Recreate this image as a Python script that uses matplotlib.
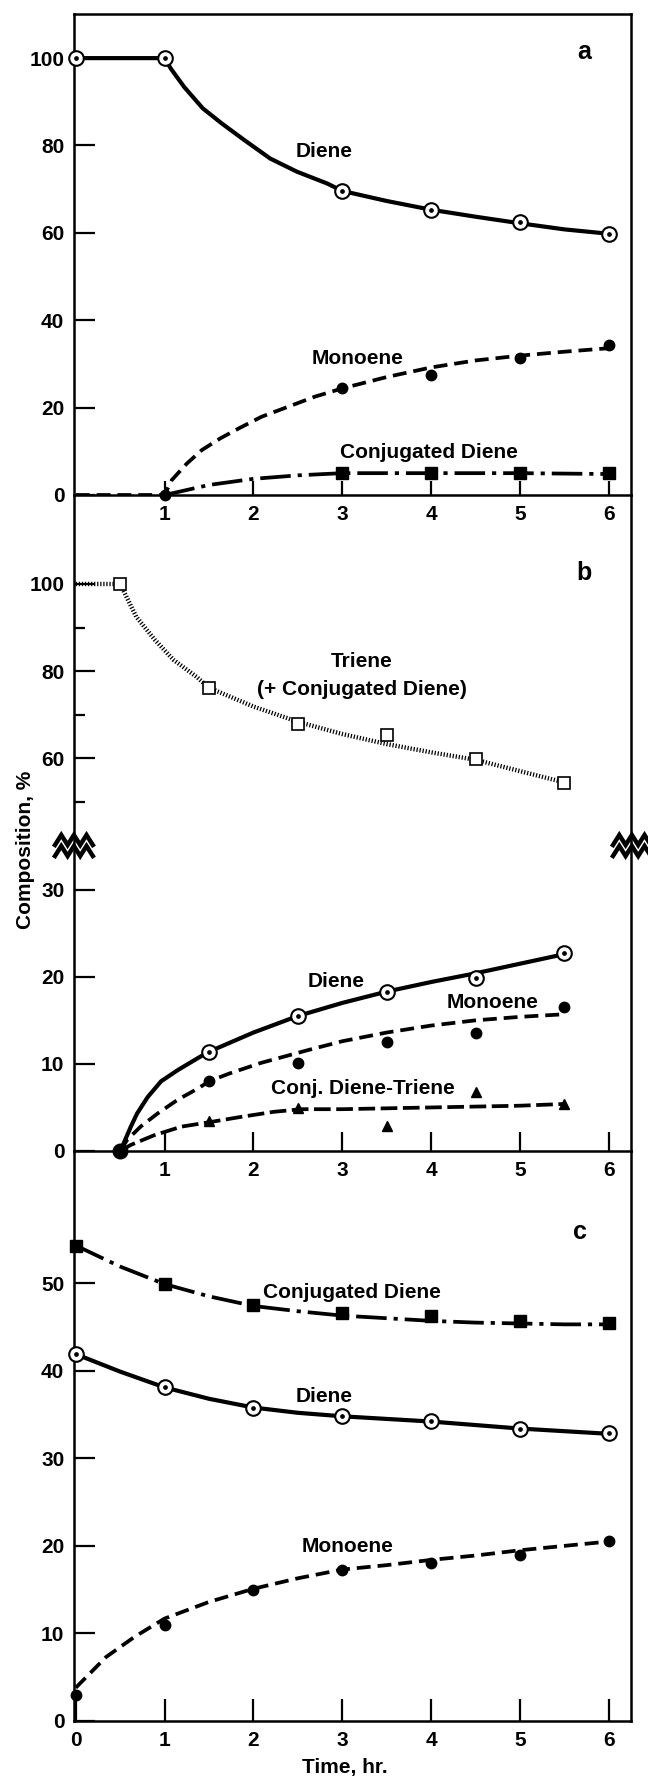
import numpy as np
import matplotlib
matplotlib.use('Agg')
import matplotlib.pyplot as plt

plt.rcParams['font.family'] = ['Liberation Sans', 'DejaVu Sans']
plt.rcParams['font.weight'] = 'bold'
plt.rcParams['lines.scale_dashes'] = False

W, H = 648, 1779

# ---- panel a, measured points
a_time = [0, 1, 3, 4, 5, 6]
a_diene = [100, 100, 69.6, 65.3, 62.5, 59.8]
a_mono_t = [1, 3, 4, 5, 6]
a_mono = [0, 24.4, 27.5, 31.3, 34.3]
a_conj_t = [3, 4, 5, 6]
a_conj = [5.1, 5.1, 5.0, 5.0]
# the drawn curves
a_diene_fit_t = [0, 1, 1.07, 1.22, 1.43, 1.64, 1.90, 2.19, 2.49, 2.83, 3, 3.5, 4, 4.5, 5, 5.5, 6]
a_diene_fit = [100, 100, 97.6, 93.4, 88.5, 85.1, 81.2, 77.0, 74.0, 71.3, 69.6, 67.3, 65.3, 63.7, 62.2, 60.8, 59.8]
a_mono_fit_t = [0, 1, 1.08, 1.25, 1.42, 1.63, 1.84, 2.09, 2.39, 2.69, 3, 3.5, 4, 4.5, 5, 5.5, 6]
a_mono_fit = [0, 0, 3.4, 7.2, 10.3, 13.0, 15.3, 17.9, 20.2, 22.5, 24.4, 27.0, 29.2, 30.8, 31.9, 32.8, 33.6]
a_conj_fit_t = [1, 1.5, 2, 2.5, 3, 4, 5, 6]
a_conj_fit = [0, 2.3, 3.7, 4.5, 5.0, 5.0, 5.0, 4.8]

# ---- panel b
b_time = [0.5, 1.5, 2.5, 3.5, 4.5, 5.5]
b_triene = [100, 76.2, 68.0, 65.3, 59.8, 54.4]
b_diene = [0, 11.4, 15.5, 18.2, 19.9, 22.7]
b_mono = [0, 8.0, 10.1, 12.5, 13.5, 16.5]
b_ct_t = [1.5, 2.5, 3.5, 4.5, 5.5]
b_ct = [3.4, 4.9, 2.9, 6.8, 5.4]
b_triene_fit_t = [0, 0.5, 0.68, 0.89, 1.10, 1.36, 1.5, 2, 2.5, 3, 3.5, 4, 4.5, 5, 5.5]
b_triene_fit = [100, 100, 92.5, 87.2, 82.6, 78.7, 76.2, 71.9, 68.4, 65.6, 63.3, 61.4, 59.7, 57.1, 54.5]
b_diene_fit_t = [0.5, 0.54, 0.62, 0.69, 0.81, 0.96, 1.15, 1.38, 1.5, 2, 2.5, 3, 3.5, 4, 4.5, 5, 5.5]
b_diene_fit = [0, 0.9, 2.8, 4.3, 6.2, 8.0, 9.3, 10.7, 11.4, 13.6, 15.5, 17.0, 18.3, 19.4, 20.4, 21.5, 22.6]
b_mono_fit_t = [0.5, 0.58, 0.73, 0.92, 1.15, 1.38, 1.5, 1.73, 2.08, 2.62, 3, 3.5, 4, 4.5, 5, 5.5]
b_mono_fit = [0, 1.3, 2.8, 4.3, 5.9, 7.2, 8.0, 8.9, 10.1, 11.6, 12.6, 13.6, 14.4, 15.0, 15.4, 15.7]
b_ct_fit_t = [0.5, 0.62, 0.88, 1.19, 1.5, 1.85, 2.23, 2.54, 3, 3.5, 4, 4.5, 5, 5.5]
b_ct_fit = [0, 0.7, 1.8, 2.8, 3.3, 3.9, 4.5, 4.8, 4.8, 4.9, 5.0, 5.1, 5.2, 5.4]

# ---- panel c
c_time = [0, 1, 2, 3, 4, 5, 6]
c_conj = [54.3, 49.9, 47.5, 46.6, 46.2, 45.7, 45.5]
c_diene = [41.9, 38.1, 35.8, 34.8, 34.3, 33.4, 32.9]
c_mono = [3.0, 11.0, 15.0, 17.2, 18.1, 19.0, 20.6]
c_fit_t = [0, 0.5, 1, 1.5, 2, 2.5, 3, 3.5, 4, 4.5, 5, 5.5, 6]
c_conj_fit = [54.3, 51.9, 49.9, 48.5, 47.4, 46.8, 46.3, 46.0, 45.7, 45.5, 45.4, 45.3, 45.3]
c_diene_fit = [41.9, 39.9, 38.1, 36.8, 35.8, 35.2, 34.8, 34.5, 34.2, 33.8, 33.4, 33.1, 32.8]
c_mono_fit_t = [0, 0.34, 0.66, 1, 1.5, 2, 2.5, 3, 3.5, 4, 4.5, 5, 5.5, 6]
c_mono_fit = [3.8, 7.3, 9.6, 11.7, 13.6, 15.1, 16.3, 17.3, 17.8, 18.4, 18.9, 19.5, 20.0, 20.5]

FS = 15      # curve labels
TFS = 15     # tick labels
SOLID = dict(color='k', lw=3.0, solid_capstyle='butt', solid_joinstyle='round', zorder=2)
DASH = dict(color='k', lw=2.7, dashes=(10, 5), zorder=2)
LDASH = dict(color='k', lw=2.7, dashes=(12, 4), zorder=2)
DASHDOT = dict(color='k', lw=2.7, dashes=(22, 5, 3, 5), zorder=2)
DOTS = dict(color='k', lw=3.2, dashes=(0.9, 1.3), zorder=2)


def circ_dot(ax, x, y):
    ax.plot(x, y, 'o', ms=10.5, mfc='white', mec='k', mew=1.5, zorder=4, clip_on=False)
    ax.plot(x, y, 'o', ms=2.4, color='k', zorder=5, clip_on=False)


def make_ax(top, bottom):
    ax = fig.add_axes([74 / W, 1 - bottom / H, (631 - 74) / W, (bottom - top) / H])
    ax.set_facecolor('none')
    ax.set_xlim(-0.02, 6.25)
    for s in ax.spines.values():
        s.set_linewidth(1.8)
    ax.tick_params(axis='y', direction='in', length=15, width=1.6, labelsize=TFS, pad=7, right=False)
    ax.tick_params(axis='y', which='minor', direction='in', length=8, width=1.6)
    ax.tick_params(axis='x', direction='in', width=1.6, labelsize=TFS, pad=7, top=False)
    return ax


fig = plt.figure(figsize=(W / 100, H / 100), dpi=100)

# ---------------- a
ax = make_ax(14, 495)
ax.set_ylim(0, 110.1)
ax.set_yticks([0, 20, 40, 60, 80, 100])
ax.set_xticks([1, 2, 3, 4, 5, 6])
ax.tick_params(axis='x', length=10)
ax.plot(a_diene_fit_t, a_diene_fit, **SOLID)
ax.plot(a_mono_fit_t, a_mono_fit, **DASH)
ax.plot(a_conj_fit_t, a_conj_fit, **DASHDOT)
circ_dot(ax, a_time, a_diene)
ax.plot(a_mono_t, a_mono, 'o', ms=7.5, color='k', zorder=4, clip_on=False)
ax.plot(a_conj_t, a_conj, 's', ms=8.5, color='k', zorder=4)
ax.text(2.80, 78.7, 'Diene', fontsize=FS, ha='center', va='center')
ax.text(3.17, 31.3, 'Monoene', fontsize=FS, ha='center', va='center')
ax.text(3.97, 9.8, 'Conjugated Diene', fontsize=FS, ha='center', va='center')
ax.text(5.72, 101.5, 'a', fontsize=18, ha='center', va='center')

# ---------------- b (broken y axis)
bu = make_ax(495, 847)
bu.set_ylim(39.7, 120.4)
bu.set_yticks([60, 80, 100])
bu.set_yticks([50, 70, 90], minor=True)
bu.spines['top'].set_visible(False)
bu.spines['bottom'].set_visible(False)
bu.tick_params(axis='x', bottom=False, labelbottom=False)
bu.plot(b_triene_fit_t, b_triene_fit, **DOTS)
bu.plot(b_time, b_triene, 's', ms=8.5, mfc='white', mec='k', mew=1.2, zorder=4)
bu.text(3.22, 82.2, 'Triene', fontsize=FS, ha='center', va='center')
bu.text(3.22, 75.7, '(+ Conjugated Diene)', fontsize=FS, ha='center', va='center')
bu.text(5.72, 102.5, 'b', fontsize=18, ha='center', va='center')

bl = make_ax(847, 1151)
bl.set_ylim(0, 34.9)
bl.set_yticks([0, 10, 20, 30])
bl.set_xticks([1, 2, 3, 4, 5, 6])
bl.tick_params(axis='x', length=14)
bl.spines['top'].set_visible(False)
bl.plot(b_diene_fit_t, b_diene_fit, **SOLID)
bl.plot(b_mono_fit_t, b_mono_fit, **DASH)
bl.plot(b_ct_fit_t, b_ct_fit, **LDASH)
bl.plot(b_time, b_mono, 'o', ms=7.5, color='k', zorder=4, clip_on=False)
bl.plot(b_ct_t, b_ct, '^', ms=7.5, color='k', zorder=4)
circ_dot(bl, b_time[1:], b_diene[1:])
bl.plot(b_time[0], b_diene[0], 'o', ms=10.5, mfc='k', mec='k', zorder=5, clip_on=False)
bl.text(2.93, 19.5, 'Diene', fontsize=FS, ha='center', va='center')
bl.text(4.69, 17.0, 'Monoene', fontsize=FS, ha='center', va='center')
bl.text(3.23, 7.2, 'Conj. Diene-Triene', fontsize=FS, ha='center', va='center')

# ---------------- c
cx = make_ax(1151, 1721)
cx.set_ylim(0, 65.1)
cx.set_yticks([0, 10, 20, 30, 40, 50])
cx.set_xticks([0, 1, 2, 3, 4, 5, 6])
cx.tick_params(axis='x', length=16)
cx.spines['top'].set_visible(False)
cx.plot(c_fit_t, c_conj_fit, **DASHDOT)
cx.plot(c_fit_t, c_diene_fit, **SOLID)
cx.plot(c_mono_fit_t, c_mono_fit, **DASH)
cx.plot(c_time, c_conj, 's', ms=8.5, color='k', zorder=4, clip_on=False)
circ_dot(cx, c_time, c_diene)
cx.plot(c_time, c_mono, 'o', ms=7.5, color='k', zorder=4, clip_on=False)
cx.text(3.11, 48.9, 'Conjugated Diene', fontsize=FS, ha='center', va='center')
cx.text(2.80, 37.1, 'Diene', fontsize=FS, ha='center', va='center')
cx.text(3.06, 19.9, 'Monoene', fontsize=FS, ha='center', va='center')
cx.text(5.68, 55.9, 'c', fontsize=18, ha='center', va='center')
cx.text(3.03, -0.081, 'Time, hr.', fontsize=FS, ha='center', va='center',
        transform=cx.get_xaxis_transform())

fig.text(26 / W, 1 - 850 / H, 'Composition, %', rotation=90, fontsize=15,
         ha='center', va='center')

# break marks on both sides of the b panel
over = fig.add_axes([0, 0, 1, 1], zorder=10)
over.set_xlim(0, W)
over.set_ylim(H, 0)
over.axis('off')
for x0 in (55, 613):
    zx = x0 + np.arange(7) * 6.3
    for y0 in (840, 851):
        over.plot(zx, y0 + np.array([5, -5, 5, -5, 5, -5, 5]), color='k', lw=3.2,
                  solid_joinstyle='miter')

fig.savefig('out.png', dpi=100)
